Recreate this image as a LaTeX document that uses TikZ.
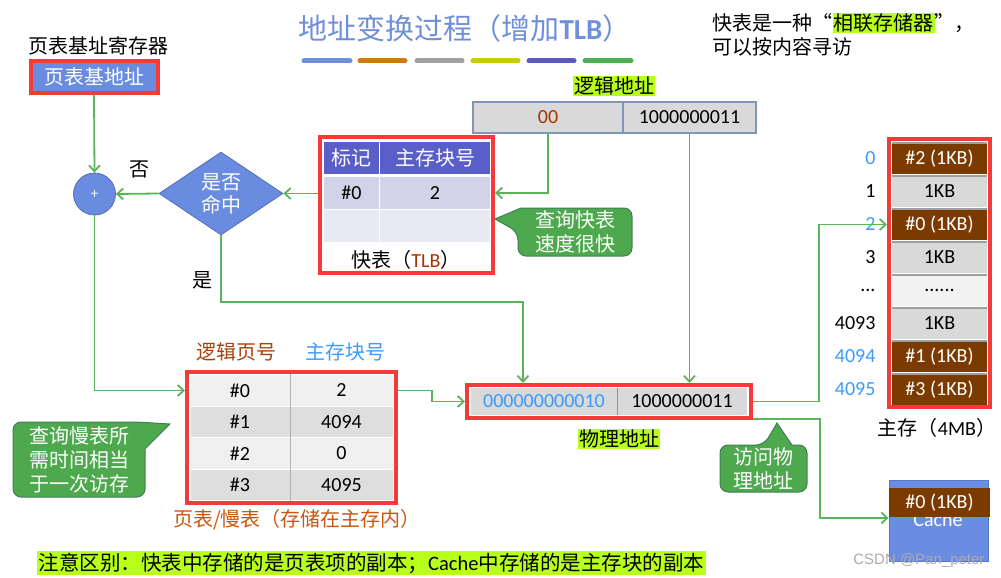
\documentclass[tikz,border=0pt]{standalone}
\usepackage{fontspec}
\setmainfont{Carlito}
\newfontfamily\cjk{Noto Sans CJK SC}
\newfontfamily\lat{Carlito}
\newfontfamily\wmfont{Liberation Sans}
\usetikzlibrary{arrows.meta,shapes.geometric}
\definecolor{tblue}{HTML}{6F8FD9}
\definecolor{nodeblue}{HTML}{6A8CE0}
\definecolor{redb}{HTML}{F53A3A}
\definecolor{arrg}{HTML}{5AB45A}
\definecolor{callg}{HTML}{4EA84E}
\definecolor{callb}{HTML}{3F7F55}
\definecolor{hl}{HTML}{B8FF1A}
\definecolor{hdr}{HTML}{5A5EC8}
\definecolor{rowa}{HTML}{D2D2E8}
\definecolor{rowb}{HTML}{E9E9F4}
\definecolor{brownc}{HTML}{7B3A00}
\definecolor{cellg}{HTML}{D9D9D9}
\definecolor{lightc}{HTML}{F2F2F2}
\definecolor{addrb}{HTML}{8096B8}
\definecolor{lblue}{HTML}{3A9BFF}
\definecolor{darkred}{HTML}{A83200}
\definecolor{orng}{HTML}{C9560F}
\definecolor{brownlab}{HTML}{A5420C}
\definecolor{cacheblue}{HTML}{6A8CE3}
\definecolor{pta}{HTML}{F0F0F0}
\definecolor{ptb}{HTML}{DEDEDE}
\definecolor{barA}{HTML}{6E8FD9}
\definecolor{barB}{HTML}{D07A12}
\definecolor{barC}{HTML}{A0A0A0}
\definecolor{barD}{HTML}{C9CC00}
\definecolor{barE}{HTML}{5A5AC0}
\definecolor{barF}{HTML}{4CAF50}
\setlength{\fboxsep}{1pt}
\begin{document}
\begin{tikzpicture}[x=1pt,y=-1pt,
  arr/.style={draw=arrg, line width=1.8pt, -{Straight Barb[length=6pt,width=11pt,line width=1.8pt]}},
  redbox/.style={draw=redb, line width=4pt, inner sep=0pt},
  cjkt/.style={font=\cjk\fontsize{20}{23}\selectfont},
  numt/.style={font=\lat\fontsize{20}{23}\selectfont},
  cellbox/.style={inner sep=0pt, numt},
  cshape/.style={fill=callg, draw=callb, line width=1pt},
  calltext/.style={text=white, align=center, font=\cjk\fontsize{20}{24}\selectfont},
  bevel/.style={draw=gray!75, line width=1.4pt},
  barline/.style={line width=5pt, line cap=round}
]
\useasboundingbox (0,0) rectangle (1001,578);

% title and colour bars
\node[font=\cjk\fontsize{29}{34}\selectfont, text=tblue] (title) at (465,28) {地址变换过程（增加{\lat\bfseries TLB}）};
\draw[barline, barA] (304,61) -- (350,61);
\draw[barline, barB] (360,61) -- (405,61);
\draw[barline, barC] (417,61) -- (462,61);
\draw[barline, barD] (473,61) -- (518,61);
\draw[barline, barE] (529,61) -- (574,61);
\draw[barline, barF] (585,61) -- (631,61);

% top right note
\node[cjkt, anchor=west] (note1) at (709,23) {快表是一种“\colorbox{hl}{相联存储器}”，};
\node[cjkt, anchor=west] (note2) at (709,47) {可以按内容寻访};

% page table base register
\node[cjkt] (pbaselab) at (98,46) {页表基址寄存器};
\node[redbox, fill=nodeblue, minimum width=127pt, minimum height=31pt, text=white, cjkt] (pbase) at (94,77) {页表基地址};

% adder and decision
\node[circle, fill=nodeblue, draw=nodeblue!80!black, line width=0.8pt, minimum size=42pt, inner sep=0pt, text=white, font=\lat\fontsize{15}{17}\selectfont] (plus) at (94.5,194) {+};
\node[diamond, aspect=1.5, fill=nodeblue, draw=nodeblue!80!black, line width=0.8pt, minimum width=124pt, minimum height=83pt, inner sep=0pt, text=white, align=center, cjkt] (dia) at (221,193.5) {是否\\命中};
\node[cjkt] (no) at (139,169) {否};
\node[cjkt] (yes) at (202,280) {是};

% TLB
\node[redbox, minimum width=173pt, minimum height=136pt] (tlb) at (406.5,205) {};
\node[cellbox, fill=hdr, minimum width=55pt, minimum height=32pt, text=white, cjkt] (th0) at (351.5,158) {标记};
\node[cellbox, fill=hdr, minimum width=110pt, minimum height=32pt, text=white, cjkt] (th1) at (435,158) {主存块号};
\node[cellbox, fill=rowa, minimum width=55pt, minimum height=32pt] (tr0) at (351.5,193) {\#0};
\node[cellbox, fill=rowa, minimum width=110pt, minimum height=32pt] (tr1) at (435,193) {2};
\node[cellbox, fill=rowb, minimum width=55pt, minimum height=32pt] (tr2) at (351.5,226) {};
\node[cellbox, fill=rowb, minimum width=110pt, minimum height=32pt] (tr3) at (435,226) {};
\node[cjkt] (tlbcap) at (406,260) {快表（{\lat\color{darkred}TLB}）};

% TLB callout
\draw[cshape] (495,219) -- (521,208) [rounded corners=8pt] -- (632,208) -- (632,256) -- (518,256) -- (518,232) [sharp corners] -- cycle;
\node[calltext] (c1) at (575,232) {查询快表\\速度很快};

% logical address
\node[fill=hl, inner sep=1pt, cjkt] (lalab) at (614,86) {逻辑地址};
\node[cellbox, fill=cellg, draw=addrb, line width=1.2pt, minimum width=150pt, minimum height=31pt, text=darkred] (la0) at (548,117.5) {00};
\node[cellbox, fill=cellg, draw=addrb, line width=1.2pt, minimum width=133pt, minimum height=31pt] (la1) at (689.5,117.5) {1000000011};

% physical address
\node[redbox, minimum width=284pt, minimum height=33pt] (pa) at (609,401.5) {};
\node[cellbox, fill=cellg, minimum width=146pt, minimum height=27pt, text=lblue] (pa0) at (544,401.5) {000000000010};
\node[cellbox, fill=cellg, minimum width=130pt, minimum height=27pt] (pa1) at (682,401.5) {1000000011};
\draw[addrb, line width=1pt] (pa0.north east) -- (pa0.south east);
\node[fill=hl, inner sep=1pt, cjkt] (palab) at (619,439) {物理地址};

% page table
\node[cjkt, text=brownlab] (ptl0) at (236,352) {逻辑页号};
\node[cjkt, text=lblue] (ptl1) at (345,352) {主存块号};
\node[redbox, minimum width=209pt, minimum height=131pt] (pt) at (291.5,437.5) {};
\node[cellbox, fill=pta, draw=white, line width=0.8pt, minimum width=100pt, minimum height=31.5pt] (pr00) at (240,390.5) {\#0};
\node[cellbox, fill=pta, draw=white, line width=0.8pt, minimum width=103pt, minimum height=31.5pt] (pr01) at (341.5,390.5) {2};
\node[cellbox, fill=ptb, draw=white, line width=0.8pt, minimum width=100pt, minimum height=31.5pt] (pr10) at (240,422) {\#1};
\node[cellbox, fill=ptb, draw=white, line width=0.8pt, minimum width=103pt, minimum height=31.5pt] (pr11) at (341.5,422) {4094};
\node[cellbox, fill=pta, draw=white, line width=0.8pt, minimum width=100pt, minimum height=31.5pt] (pr20) at (240,453.5) {\#2};
\node[cellbox, fill=pta, draw=white, line width=0.8pt, minimum width=103pt, minimum height=31.5pt] (pr21) at (341.5,453.5) {0};
\node[cellbox, fill=ptb, draw=white, line width=0.8pt, minimum width=100pt, minimum height=31.5pt] (pr30) at (240,485) {\#3};
\node[cellbox, fill=ptb, draw=white, line width=0.8pt, minimum width=103pt, minimum height=31.5pt] (pr31) at (341.5,485) {4095};
\draw[gray!60, line width=1pt] (pr00.north east) -- (pr30.south east);
\node[cjkt, text=orng] (ptcap) at (297,520) {页表/慢表（存储在主存内）};

% page table callout
\draw[cshape] (170,424) -- (145,449) [rounded corners=8pt] -- (145,497) -- (13,497) -- (13,422) -- (137,422) [sharp corners] -- cycle;
\node[calltext] (c2) at (79,460) {查询慢表所\\需时间相当\\于一次访存};

% physical address callout
\draw[cshape] (777,423) -- (792,445) [rounded corners=8pt] -- (807,445) -- (807,492) -- (720,492) -- (720,445) -- (764,445) [sharp corners] -- cycle;
\node[calltext] (c3) at (763.5,468.5) {访问物\\理地址};

% main memory
\node[redbox, minimum width=101pt, minimum height=268pt] (mm) at (939.5,273) {};
\node[cellbox, fill=brownc, text=white, minimum width=95pt, minimum height=31pt] (mm0) at (939.5,158.5) {\#2 (1KB)};
\node[cellbox, fill=cellg, minimum width=95pt, minimum height=31pt] (mm1) at (939.5,191.5) {1KB};
\node[cellbox, fill=brownc, text=white, minimum width=95pt, minimum height=31pt] (mm2) at (939.5,224.5) {\#0 (1KB)};
\node[cellbox, fill=cellg, minimum width=95pt, minimum height=31pt] (mm3) at (939.5,257.5) {1KB};
\node[cellbox, fill=lightc, minimum width=95pt, minimum height=31pt] (mm4) at (939.5,290.5) {......};
\node[cellbox, fill=cellg, minimum width=95pt, minimum height=31pt] (mm5) at (939.5,323.5) {1KB};
\node[cellbox, fill=brownc, text=white, minimum width=95pt, minimum height=31pt] (mm6) at (939.5,356.5) {\#1 (1KB)};
\node[cellbox, fill=brownc, text=white, minimum width=95pt, minimum height=31pt] (mm7) at (939.5,389.5) {\#3 (1KB)};
\foreach \i in {0,...,7} \draw[bevel] (mm\i.north west) -- (mm\i.north east);
\node[numt, anchor=east, text=lblue] (ml0) at (879,158.5) {0};
\node[numt, anchor=east] (ml1) at (879,191.5) {1};
\node[numt, anchor=east, text=lblue] (ml2) at (879,224.5) {2};
\node[numt, anchor=east] (ml3) at (879,257.5) {3};
\node[numt, anchor=east] (ml4) at (879,290.5) {...};
\node[numt, anchor=east] (ml5) at (879,323.5) {4093};
\node[numt, anchor=east, text=lblue] (ml6) at (879,356.5) {4094};
\node[numt, anchor=east, text=lblue] (ml7) at (879,389.5) {4095};
\node[cjkt] (mmcap) at (937,428) {主存（{\lat 4MB}）};

% cache
\node[fill=cacheblue, draw=cacheblue!85!black, line width=0.8pt, minimum width=99pt, minimum height=81pt, inner sep=0pt] (cache) at (938.5,521) {};
\node[numt, text=white] (cachetxt) at (938,520) {Cache};
\node[cellbox, fill=brownc, text=white, minimum width=101pt, minimum height=29pt] (cband) at (939.5,502.5) {\#0 (1KB)};

% bottom note and watermark
\node[font=\cjk\fontsize{20.5}{24}\selectfont, fill=hl, inner sep=1.5pt, anchor=west] (note3) at (37,563) {注意区别：快表中存储的是页表项的副本；{\lat Cache}中存储的是主存块的副本};
\node[font=\wmfont\fontsize{15}{17}\selectfont, text=gray!65, anchor=east] (wm) at (988,561) {CSDN @Pan\_peter};

% connectors
\coordinate (yesc) at (523,302);
\coordinate (j1) at (432,390.5);
\coordinate (j2) at (819,401.5);
\coordinate (j3) at (820,419);
\coordinate (j4) at (820,518);
\draw[arr] (pbase.south) -- (plus.north);
\draw[arr] (dia.west) -- (plus.east);
\draw[arr] (tlb.west |- dia.east) -- (dia.east);
\draw[arr] (la0.south) |- (tlb.east |- tr1);
\draw[arr] (la1.south) -- (la1.south |- pa.north);
\draw[arr] (dia.south) |- (yesc) -- (yesc |- pa.north);
\draw[arr] (plus.south) |- (pt.west |- pr00);
\draw[arr] (pt.east |- pr00) -- (j1) |- (pa.west);
\draw[arr] (pa.east) -- (j2) |- (mm.west |- mm2);
\draw[arr] (pa.east |- j3) -- (j3) -- (j4) -- (cache.west |- j4);
\end{tikzpicture}
\end{document}
